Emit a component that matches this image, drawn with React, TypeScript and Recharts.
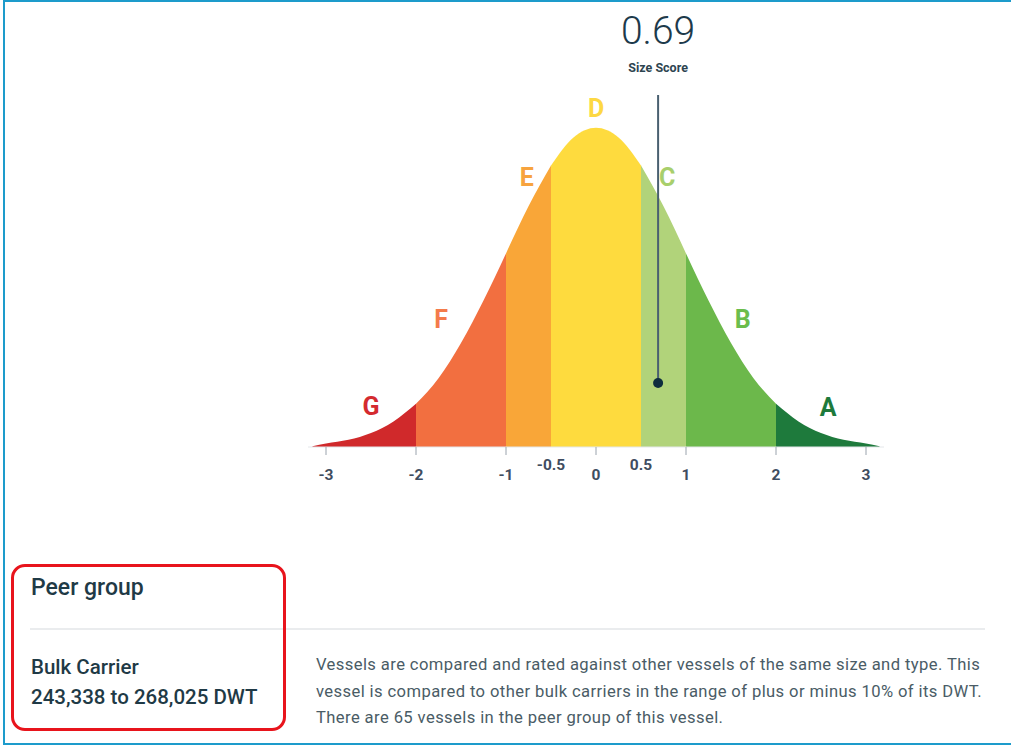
import {
  Area,
  ComposedChart,
  ReferenceDot,
  ReferenceLine,
  XAxis,
  YAxis,
} from "recharts";

// curve (density at each score)
const scoreX = [
  -3.15, -3, -2.75, -2.5, -2.25, -2, -1.75, -1.5, -1.25, -1, -0.75, -0.5, -0.25, 0,
  0.25, 0.5, 0.75, 1, 1.25, 1.5, 1.75, 2, 2.25, 2.5, 2.75, 3, 3.15,
];
const density = [
  0.001, 0.0045, 0.009, 0.0175, 0.032, 0.054, 0.086, 0.13, 0.183, 0.242, 0.301, 0.352,
  0.387, 0.399, 0.387, 0.352, 0.301, 0.242, 0.183, 0.13, 0.086, 0.054, 0.032, 0.0175,
  0.009, 0.0045, 0.001,
];

const grades = ["G", "F", "E", "D", "C", "B", "A"];
const gradeFrom = [-3.15, -2, -1, -0.5, 0.5, 1, 2];
const gradeTo = [-2, -1, -0.5, 0.5, 1, 2, 3.15];
const gradeFill = ["#d0292b", "#f26f40", "#f9a638", "#fedb3e", "#b1d37a", "#6cb84b", "#1e7a3c"];
const gradeText = ["#d42a2f", "#f47b4b", "#f7a33e", "#fdd843", "#a8cf6c", "#6bbd4c", "#1e7a3c"];
const gradeLabelX = [-2.5, -1.72, -0.77, 0, 0.79, 1.63, 2.58];
const gradeLabelY = [0.051, 0.16, 0.337, 0.424, 0.337, 0.16, 0.05];

const xTicks = [-3, -2, -1, -0.5, 0, 0.5, 1, 2, 3];

const sizeScore = 0.69;

const peerLines = [
  "Vessels are compared and rated against other vessels of the same size and type. This",
  "vessel is compared to other bulk carriers in the range of plus or minus 10% of its DWT.",
  "There are 65 vessels in the peer group of this vessel.",
];

const rows = scoreX.map((x, i) => {
  const row: Record<string, number | null> = { x };
  grades.forEach((g, j) => {
    row[g] = x >= gradeFrom[j] && x <= gradeTo[j] ? density[i] : null;
  });
  return row;
});

const FONT = "Roboto, 'Noto Sans', sans-serif";

function ScoreTick(props: any) {
  const { x, y, payload } = props;
  const v = payload.value as number;
  const half = Math.abs(v) === 0.5;
  return (
    <g>
      {!half && <line x1={x} x2={x} y1={y} y2={y + 8} stroke="#9aa3ad" strokeWidth={1} />}
      <text
        x={x}
        y={y + (half ? 23 : 33)}
        textAnchor="middle"
        fontFamily={FONT}
        fontWeight={700}
        fontSize={15.5}
        fill="#3f4d60"
      >
        {String(v)}
      </text>
    </g>
  );
}

function GradeLabel(props: any) {
  const { viewBox, value, fill } = props;
  const cx = viewBox.x + viewBox.width / 2;
  const cy = viewBox.y + viewBox.height / 2;
  return (
    <text
      x={cx}
      y={cy + 9}
      textAnchor="middle"
      fontFamily={FONT}
      fontWeight={700}
      fontSize={25}
      fill={fill}
    >
      {value}
    </text>
  );
}

function ScoreText(props: any) {
  const { viewBox, value, big } = props;
  const cx = viewBox.x + viewBox.width / 2;
  const cy = viewBox.y + viewBox.height / 2;
  return (
    <text
      x={cx}
      y={cy + (big ? 14 : 4)}
      textAnchor="middle"
      fontFamily={FONT}
      fontWeight={big ? 300 : 700}
      fontSize={big ? 39 : 12.5}
      fill={big ? "#1d3a4b" : "#2d4450"}
    >
      {value}
    </text>
  );
}

export default function App() {
  return (
    <div
      style={{
        position: "absolute",
        left: 0,
        top: 0,
        width: 1011,
        height: 745,
        background: "#fff",
        overflow: "hidden",
        fontFamily: FONT,
      }}
    >
      <div
        style={{
          position: "absolute",
          left: 3,
          top: 0,
          width: 1030,
          height: 741,
          borderTop: "2px solid #1d9bcb",
          borderLeft: "2px solid #1d9bcb",
          borderBottom: "2px solid #1d9bcb",
        }}
      />
      <div style={{ position: "absolute", left: 0, top: 0 }}>
        <ComposedChart
          width={1011}
          height={500}
          data={rows}
          margin={{ top: 47, right: 127, bottom: 23, left: 308 }}
        >
          <XAxis
            dataKey="x"
            type="number"
            domain={[-3.2, 3.2]}
            ticks={xTicks}
            interval={0}
            height={30}
            tickLine={false}
            tickSize={0}
            tickMargin={0}
            axisLine={{ stroke: "#e4e7ea", strokeWidth: 1 }}
            tick={<ScoreTick />}
          />
          <YAxis hide type="number" domain={[0, 0.5]} />
          {grades.map((g, j) => (
            <Area
              key={g}
              type="monotone"
              dataKey={g}
              stroke="none"
              fill={gradeFill[j]}
              fillOpacity={1}
              connectNulls={false}
              dot={false}
              activeDot={false}
              isAnimationActive={false}
            />
          ))}
          {grades.map((g, j) => (
            <ReferenceDot
              key={"l" + g}
              x={gradeLabelX[j]}
              y={gradeLabelY[j]}
              r={1}
              fill="none"
              stroke="none"
              ifOverflow="visible"
              label={<GradeLabel value={g} fill={gradeText[j]} />}
            />
          ))}
          <ReferenceLine
            segment={[
              { x: sizeScore, y: 0.08 },
              { x: sizeScore, y: 0.44 },
            ]}
            stroke="#4a6070"
            strokeWidth={2}
            ifOverflow="visible"
          />
          <ReferenceDot
            x={sizeScore}
            y={0.08}
            r={5}
            fill="#0e2d3e"
            stroke="none"
            ifOverflow="visible"
          />
          <ReferenceDot
            x={sizeScore}
            y={0.474}
            r={1}
            fill="none"
            stroke="none"
            ifOverflow="visible"
            label={<ScoreText value="Size Score" />}
          />
          <ReferenceDot
            x={sizeScore}
            y={0.521}
            r={1}
            fill="none"
            stroke="none"
            ifOverflow="visible"
            label={<ScoreText value={String(sizeScore)} big />}
          />
        </ComposedChart>
      </div>

      <div
        style={{
          position: "absolute",
          left: 31,
          top: 574,
          fontSize: 23,
          fontWeight: 500,
          color: "#1f3a46",
        }}
      >
        Peer group
      </div>
      <div
        style={{
          position: "absolute",
          left: 30,
          top: 628,
          width: 955,
          height: 2,
          background: "#eaecee",
        }}
      />
      <div
        style={{
          position: "absolute",
          left: 31,
          top: 652,
          fontSize: 20.5,
          fontWeight: 500,
          color: "#1f3a46",
          lineHeight: "30px",
        }}
      >
        <div>Bulk Carrier</div>
        <div>243,338 to 268,025 DWT</div>
      </div>
      <div
        style={{
          position: "absolute",
          left: 11,
          top: 564,
          width: 269,
          height: 161,
          border: "3.5px solid #e8141c",
          borderRadius: 14,
        }}
      />
      <div
        style={{
          position: "absolute",
          left: 316,
          top: 652,
          whiteSpace: "nowrap",
          fontSize: 16.6,
          letterSpacing: 0.4,
          lineHeight: "26.5px",
          color: "#4a5c66",
        }}
      >
        {peerLines.map((l) => (
          <div key={l}>{l}</div>
        ))}
      </div>
    </div>
  );
}
